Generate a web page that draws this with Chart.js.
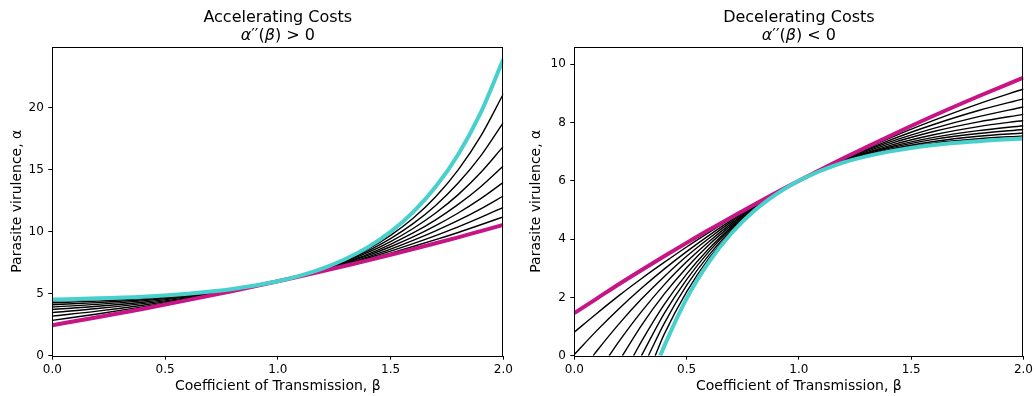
<!DOCTYPE html>
<html>
<head>
<meta charset="utf-8">
<script src="https://cdn.jsdelivr.net/npm/chart.js@4.4.0/dist/chart.umd.min.js"></script>
<style>
  html, body { margin: 0; padding: 0; background: #fff; }
  .panel { position: absolute; top: 0; width: 518px; height: 396px; }
  #left { left: 0; }
  #right { left: 518px; }
</style>
</head>
<body>
<div class="panel" id="left"><canvas id="accelChart" width="518" height="396"></canvas></div>
<div class="panel" id="right"><canvas id="decelChart" width="518" height="396"></canvas></div>
<script>
// ---- accelerating costs: virulence vs transmission ----
var accelBeta = [0, 0.2, 0.4, 0.6, 0.8, 1.0, 1.1, 1.2, 1.3, 1.4, 1.5, 1.6, 1.7, 1.8, 1.9, 2.0];
var accelMagenta = [2.46, 3.10, 3.77, 4.48, 5.22, 6.00, 6.40, 6.82, 7.25, 7.68, 8.13, 8.59, 9.06, 9.54, 10.04, 10.54];
var accelCyan = [4.53, 4.62, 4.76, 4.99, 5.37, 6.00, 6.45, 7.04, 7.79, 8.75, 9.98, 11.57, 13.61, 16.22, 19.58, 23.89];
var accelBlack = [
  [2.85, 3.36, 3.93, 4.55, 5.24, 6.00, 6.41, 6.84, 7.29, 7.77, 8.27, 8.80, 9.35, 9.93, 10.55, 11.19],
  [3.19, 3.59, 4.07, 4.62, 5.26, 6.00, 6.42, 6.86, 7.35, 7.87, 8.43, 9.03, 9.68, 10.38, 11.14, 11.96],
  [3.47, 3.80, 4.20, 4.68, 5.27, 6.00, 6.42, 6.89, 7.40, 7.97, 8.59, 9.29, 10.06, 10.90, 11.84, 12.87],
  [3.72, 3.98, 4.31, 4.74, 5.29, 6.00, 6.43, 6.91, 7.46, 8.08, 8.78, 9.57, 10.48, 11.50, 12.66, 13.97],
  [3.93, 4.14, 4.42, 4.80, 5.31, 6.00, 6.43, 6.93, 7.52, 8.19, 8.98, 9.89, 10.95, 12.19, 13.62, 15.28],
  [4.11, 4.28, 4.51, 4.85, 5.32, 6.00, 6.44, 6.96, 7.58, 8.32, 9.20, 10.25, 11.50, 12.98, 14.76, 16.87],
  [4.27, 4.40, 4.60, 4.90, 5.34, 6.00, 6.44, 6.98, 7.64, 8.45, 9.44, 10.64, 12.11, 13.91, 16.10, 18.78],
  [4.41, 4.52, 4.68, 4.95, 5.36, 6.00, 6.45, 7.01, 7.71, 8.59, 9.70, 11.08, 12.81, 14.98, 17.69, 21.09]
];

// ---- decelerating costs ----
var decelBeta = [0, 0.1, 0.2, 0.3, 0.4, 0.5, 0.6, 0.7, 0.8, 0.9, 1.0, 1.2, 1.4, 1.6, 1.8, 2.0];
var decelMagenta = [1.46, 1.96, 2.46, 2.94, 3.41, 3.87, 4.32, 4.75, 5.18, 5.60, 6.00, 6.78, 7.52, 8.23, 8.90, 9.54];
var decelCyan = [null, null, null, null, 0.32, 1.96, 3.22, 4.20, 4.96, 5.54, 6.00, 6.63, 7.00, 7.23, 7.36, 7.45];
var decelCyanRoot = 0.383;
var decelBlack = [
  [0.81, 1.45, 2.07, 2.65, 3.20, 3.73, 4.23, 4.71, 5.16, 5.59, 6.00, 6.76, 7.45, 8.07, 8.64, 9.15],
  [0.04, 0.86, 1.62, 2.32, 2.97, 3.57, 4.13, 4.65, 5.14, 5.58, 6.00, 6.74, 7.38, 7.93, 8.41, 8.81],
  [null, 0.16, 1.10, 1.95, 2.71, 3.41, 4.03, 4.60, 5.11, 5.58, 6.00, 6.73, 7.32, 7.80, 8.20, 8.53],
  [null, null, 0.50, 1.52, 2.43, 3.22, 3.92, 4.54, 5.09, 5.57, 6.00, 6.71, 7.26, 7.69, 8.02, 8.28],
  [null, null, null, 1.05, 2.11, 3.02, 3.81, 4.48, 5.07, 5.57, 6.00, 6.69, 7.20, 7.58, 7.86, 8.07],
  [null, null, null, 0.50, 1.75, 2.80, 3.68, 4.42, 5.04, 5.56, 6.00, 6.68, 7.15, 7.49, 7.72, 7.89],
  [null, null, null, null, 1.44, 2.61, 3.58, 4.37, 5.02, 5.56, 6.00, 6.66, 7.11, 7.42, 7.62, 7.76],
  [null, null, null, null, 1.10, 2.41, 3.46, 4.31, 5.00, 5.55, 6.00, 6.65, 7.07, 7.35, 7.53, 7.64],
  [null, null, null, null, 0.73, 2.19, 3.35, 4.26, 4.98, 5.55, 6.00, 6.64, 7.04, 7.29, 7.44, 7.54]
];
// beta where each black curve comes up off alpha = 0 (null = already above at beta 0)
var decelBlackRoots = [null, null, 0.084, 0.155, 0.214, 0.264, 0.299, 0.330, 0.360];

var MAGENTA = '#c71585';
var CYAN = '#48d1cc';
var FONT = '"DejaVu Sans", sans-serif';

function toPoints(xs, ys, root) {
  var pts = [];
  if (root != null) pts.push({x: root, y: 0});
  for (var i = 0; i < xs.length; i++) {
    if (ys[i] !== null) pts.push({x: xs[i], y: ys[i]});
  }
  return pts;
}

function line(points, color, width, order) {
  return {
    data: points,
    borderColor: color,
    borderWidth: width,
    pointRadius: 0,
    fill: false,
    cubicInterpolationMode: 'monotone',
    order: order
  };
}

// title + mathtext-style subtitle centred over the plot, and the full axes frame
var panelDecor = {
  id: 'panelDecor',
  afterDraw: function(chart, args, opts) {
    var ctx = chart.ctx, a = chart.chartArea;
    var cx = (a.left + a.right) / 2;
    ctx.save();
    ctx.strokeStyle = '#000';
    ctx.lineWidth = 1;
    ctx.strokeRect(Math.round(a.left) + 0.5, Math.round(a.top) + 0.5,
                   Math.round(a.right - a.left) - 1, Math.round(a.bottom - a.top));
    ctx.fillStyle = '#000';
    ctx.textBaseline = 'alphabetic';
    ctx.textAlign = 'center';
    ctx.font = '16px ' + FONT;
    ctx.fillText(opts.title, cx, 22);
    // subtitle pieces: [text, italic]
    var parts = opts.subtitle;
    var total = 0;
    parts.forEach(function(p) {
      ctx.font = (p[1] ? 'italic ' : '') + '16px ' + FONT;
      total += ctx.measureText(p[0]).width;
    });
    var x = cx - total / 2;
    ctx.textAlign = 'left';
    parts.forEach(function(p) {
      ctx.font = (p[1] ? 'italic ' : '') + '16px ' + FONT;
      ctx.fillText(p[0], x, 40);
      x += ctx.measureText(p[0]).width;
    });
    ctx.restore();
  }
};

function makeChart(id, datasets, cfg) {
  return new Chart(document.getElementById(id).getContext('2d'), {
    type: 'line',
    data: { datasets: datasets },
    options: {
      responsive: false,
      animation: false,
      layout: { padding: { top: 46.7, right: cfg.padRight, left: 0, bottom: 0 } },
      plugins: {
        legend: { display: false },
        tooltip: { enabled: false },
        panelDecor: { title: cfg.title, subtitle: cfg.subtitle }
      },
      scales: {
        x: {
          type: 'linear',
          min: 0, max: 2,
          border: { display: false },
          grid: { drawOnChartArea: false, drawTicks: true, tickLength: 4, color: '#000' },
          ticks: {
            stepSize: 0.5, includeBounds: false, padding: 3, color: '#000', maxRotation: 0,
            font: { family: FONT, size: 12 },
            callback: function(v) { return v.toFixed(1); }
          },
          title: {
            display: true, text: 'Coefficient of Transmission, β', color: '#000',
            font: { family: FONT, size: 14 }, padding: { top: 0, bottom: 1 }
          },
          afterFit: function(s) { s.height = 40.3; }
        },
        y: {
          min: 0, max: cfg.yMax,
          border: { display: false },
          grid: { drawOnChartArea: false, drawTicks: true, tickLength: 4, color: '#000' },
          ticks: {
            stepSize: cfg.yStep, includeBounds: false, padding: 4.5, color: '#000',
            font: { family: FONT, size: 12 }
          },
          title: {
            display: true, text: 'Parasite virulence, α', color: '#000',
            font: { family: FONT, size: 14 }, padding: { top: cfg.titlePad, bottom: 0 }
          },
          afterFit: function(s) { s.width = cfg.yWidth; }
        }
      }
    },
    plugins: [panelDecor]
  });
}

// accelerating panel
var accelSets = [];
accelBlack.forEach(function(ys) {
  accelSets.push(line(toPoints(accelBeta, ys, null), '#000', 1.4, 2));
});
accelSets.push(line(toPoints(accelBeta, accelMagenta, null), MAGENTA, 4, 1));
accelSets.push(line(toPoints(accelBeta, accelCyan, null), CYAN, 4, 0));

makeChart('accelChart', accelSets, {
  title: 'Accelerating Costs',
  subtitle: [['α', true], ['′′(', false], ['β', true], [') > 0', false]],
  yMax: 24.9, yStep: 5, yWidth: 52.3, padRight: 14.7, titlePad: 9
});

// decelerating panel
var decelSets = [];
decelBlack.forEach(function(ys, i) {
  decelSets.push(line(toPoints(decelBeta, ys, decelBlackRoots[i]), '#000', 1.4, 2));
});
decelSets.push(line(toPoints(decelBeta, decelMagenta, null), MAGENTA, 4, 1));
decelSets.push(line(toPoints(decelBeta, decelCyan, decelCyanRoot), CYAN, 4, 0));

makeChart('decelChart', decelSets, {
  title: 'Decelerating Costs',
  subtitle: [['α', true], ['′′(', false], ['β', true], [') < 0', false]],
  yMax: 10.6, yStep: 2, yWidth: 56.3, padRight: 10.7, titlePad: 10.3
});
</script>
</body>
</html>
